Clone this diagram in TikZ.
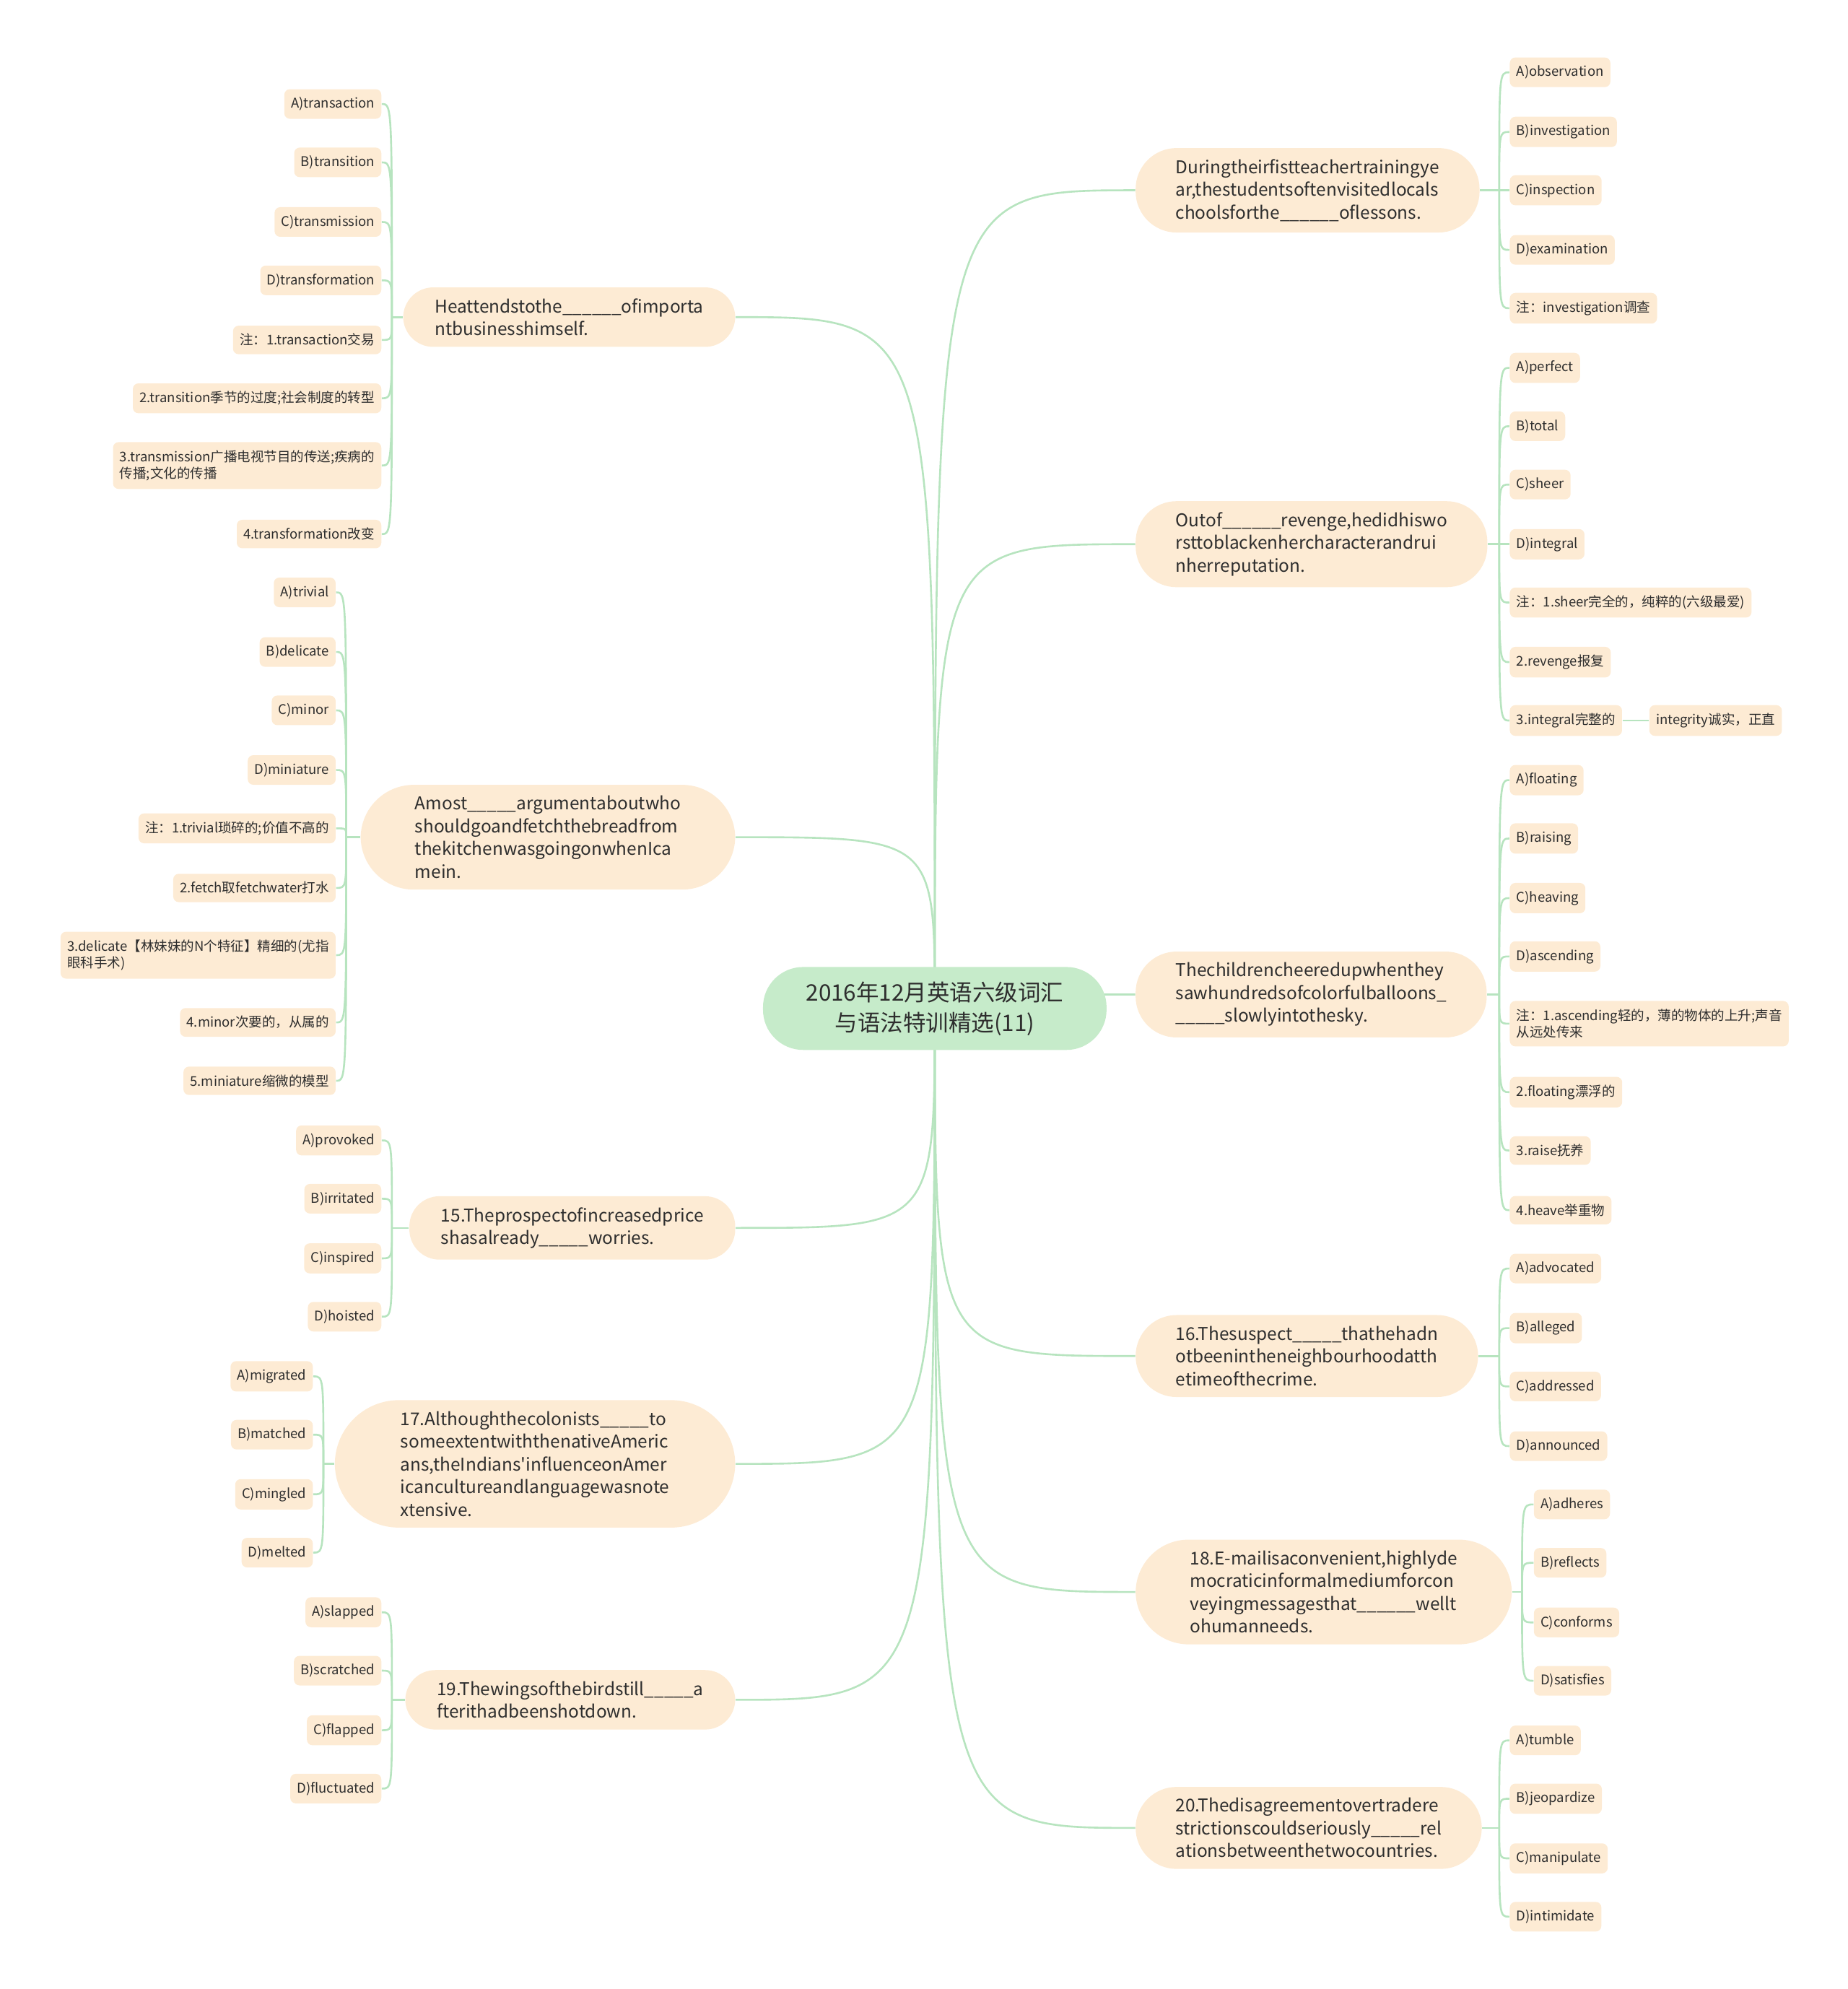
\documentclass[tikz,border=0pt]{standalone}
\usepackage{fontspec}
\setmainfont{Noto Sans CJK SC}
\usepackage{xcolor}
\usepackage{tikz}
\usetikzlibrary{backgrounds,calc}

\definecolor{rootgreen}{HTML}{C6EBCA}
\definecolor{peach}{HTML}{FDEBD4}
\definecolor{linkgreen}{HTML}{B7E4BF}
\definecolor{inkgray}{HTML}{2E2E2E}

\tikzset{
  rootnode/.style={rectangle, rounded corners=18pt, fill=rootgreen, text=inkgray, align=center,
    inner xsep=19.3pt, inner ysep=6.5pt, font=\fontsize{10.2}{13.6}\selectfont},
  question/.style={rectangle, fill=peach, text=inkgray, align=left,
    inner ysep=5pt, font=\fontsize{7.9}{10.2}\selectfont},
  lines2/.style={rounded corners=13.5pt, inner xsep=14.2pt},
  lines3/.style={rounded corners=18.4pt, inner xsep=18pt},
  lines4/.style={rounded corners=23.8pt, inner xsep=24.4pt},
  lines5/.style={rounded corners=28.8pt, inner xsep=29.5pt},
  option/.style={rectangle, rounded corners=2.5pt, fill=peach, text=inkgray, align=left,
    inner xsep=3pt, inner ysep=3.6pt, font=\fontsize{6}{7.6}\selectfont},
  link/.style={draw=linkgreen, line width=0.85pt},
}

\begin{document}
\begin{tikzpicture}[x=0.02cm, y=-0.02cm]
  \useasboundingbox (0,0) rectangle (1457,1568);
  % Root
  \node[rootnode] (root) at (737,795) {2016年12月英语六级词汇\\与语法特训精选(11)};

  % Questions on the right
  \node[question, lines3, anchor=west] (R1) at (895,150) {Duringtheirfistteachertrainingye\\ar,thestudentsoftenvisitedlocals\\choolsforthe\_\_\_\_\_\_oflessons.};
  \node[question, lines3, anchor=west] (R2) at (895,429) {Outof\_\_\_\_\_\_revenge,hedidhiswo\\rsttoblackenhercharacterandrui\\nherreputation.};
  \node[question, lines3, anchor=west] (R3) at (895,784) {Thechildrencheeredupwhenthey\\sawhundredsofcolorfulballoons\_\\\_\_\_\_\_slowlyintothesky.};
  \node[question, lines3, anchor=west] (R4) at (895,1069) {16.Thesuspect\_\_\_\_\_thathehadn\\otbeenintheneighbourhoodatth\\etimeofthecrime.};
  \node[question, lines4, anchor=west] (R5) at (895,1255) {18.E-mailisaconvenient,highlyde\\mocraticinformalmediumforcon\\veyingmessagesthat\_\_\_\_\_\_wellt\\ohumanneeds.};
  \node[question, lines3, anchor=west] (R6) at (895,1441) {20.Thedisagreementovertradere\\strictionscouldseriously\_\_\_\_\_rel\\ationsbetweenthetwocountries.};

  % Questions on the left
  \node[question, lines2, anchor=east] (L1) at (580,250) {Heattendstothe\_\_\_\_\_\_ofimporta\\ntbusinesshimself.};
  \node[question, lines4, anchor=east] (L2) at (580,660) {Amost\_\_\_\_\_argumentaboutwho\\shouldgoandfetchthebreadfrom\\thekitchenwasgoingonwhenIca\\mein.};
  \node[question, lines2, anchor=east] (L3) at (580,968) {15.Theprospectofincreasedprice\\shasalready\_\_\_\_\_worries.};
  \node[question, lines5, anchor=east] (L4) at (580,1154) {17.Althoughthecolonists\_\_\_\_\_to\\someextentwiththenativeAmeric\\ans,theIndians\textquotesingle influenceonAmer\\icancultureandlanguagewasnote\\xtensive.};
  \node[question, lines2, anchor=east] (L5) at (580,1340) {19.Thewingsofthebirdstill\_\_\_\_\_a\\fterithadbeenshotdown.};

  % Options of R1
  \node[option, anchor=west] (R1a) at (1190,57) {A)observation};
  \node[option, anchor=west] (R1b) at (1190,104) {B)investigation};
  \node[option, anchor=west] (R1c) at (1190,150) {C)inspection};
  \node[option, anchor=west] (R1d) at (1190,197) {D)examination};
  \node[option, anchor=west] (R1e) at (1190,243) {注：investigation调查};
  % Options of R2
  \node[option, anchor=west] (R2a) at (1190,290) {A)perfect};
  \node[option, anchor=west] (R2b) at (1190,336) {B)total};
  \node[option, anchor=west] (R2c) at (1190,382) {C)sheer};
  \node[option, anchor=west] (R2d) at (1190,429) {D)integral};
  \node[option, anchor=west] (R2e) at (1190,475) {注：1.sheer完全的，纯粹的(六级最爱)};
  \node[option, anchor=west] (R2f) at (1190,522) {2.revenge报复};
  \node[option, anchor=west] (R2g) at (1190,568) {3.integral完整的};
  \node[option, anchor=west] (R2h) at (1300,568) {integrity诚实，正直};
  % Options of R3
  \node[option, anchor=west] (R3a) at (1190,615) {A)floating};
  \node[option, anchor=west] (R3b) at (1190,661) {B)raising};
  \node[option, anchor=west] (R3c) at (1190,708) {C)heaving};
  \node[option, anchor=west] (R3d) at (1190,754) {D)ascending};
  \node[option, anchor=west] (R3e) at (1190,807) {注：1.ascending轻的，薄的物体的上升;声音\\从远处传来};
  \node[option, anchor=west] (R3f) at (1190,861) {2.floating漂浮的};
  \node[option, anchor=west] (R3g) at (1190,907) {3.raise抚养};
  \node[option, anchor=west] (R3h) at (1190,954) {4.heave举重物};
  % Options of R4
  \node[option, anchor=west] (R4a) at (1190,1000) {A)advocated};
  \node[option, anchor=west] (R4b) at (1190,1047) {B)alleged};
  \node[option, anchor=west] (R4c) at (1190,1093) {C)addressed};
  \node[option, anchor=west] (R4d) at (1190,1140) {D)announced};
  % Options of R5
  \node[option, anchor=west] (R5a) at (1209,1186) {A)adheres};
  \node[option, anchor=west] (R5b) at (1209,1232) {B)reflects};
  \node[option, anchor=west] (R5c) at (1209,1279) {C)conforms};
  \node[option, anchor=west] (R5d) at (1209,1325) {D)satisfies};
  % Options of R6
  \node[option, anchor=west] (R6a) at (1190,1372) {A)tumble};
  \node[option, anchor=west] (R6b) at (1190,1418) {B)jeopardize};
  \node[option, anchor=west] (R6c) at (1190,1465) {C)manipulate};
  \node[option, anchor=west] (R6d) at (1190,1511) {D)intimidate};

  % Options of L1
  \node[option, anchor=east] (L1a) at (301,82) {A)transaction};
  \node[option, anchor=east] (L1b) at (301,128) {B)transition};
  \node[option, anchor=east] (L1c) at (301,175) {C)transmission};
  \node[option, anchor=east] (L1d) at (301,221) {D)transformation};
  \node[option, anchor=east] (L1e) at (301,268) {注：1.transaction交易};
  \node[option, anchor=east] (L1f) at (301,314) {2.transition季节的过度;社会制度的转型};
  \node[option, anchor=east] (L1g) at (301,367) {3.transmission广播电视节目的传送;疾病的\\传播;文化的传播};
  \node[option, anchor=east] (L1h) at (301,421) {4.transformation改变};
  % Options of L2
  \node[option, anchor=east] (L2a) at (265,467) {A)trivial};
  \node[option, anchor=east] (L2b) at (265,514) {B)delicate};
  \node[option, anchor=east] (L2c) at (265,560) {C)minor};
  \node[option, anchor=east] (L2d) at (265,607) {D)miniature};
  \node[option, anchor=east] (L2e) at (265,653) {注：1.trivial琐碎的;价值不高的};
  \node[option, anchor=east] (L2f) at (265,700) {2.fetch取fetchwater打水};
  \node[option, anchor=east] (L2g) at (265,753) {3.delicate【林妹妹的N个特征】精细的(尤指\\眼科手术)};
  \node[option, anchor=east] (L2h) at (265,806) {4.minor次要的，从属的};
  \node[option, anchor=east] (L2i) at (265,852) {5.miniature缩微的模型};
  % Options of L3
  \node[option, anchor=east] (L3a) at (301,899) {A)provoked};
  \node[option, anchor=east] (L3b) at (301,945) {B)irritated};
  \node[option, anchor=east] (L3c) at (301,992) {C)inspired};
  \node[option, anchor=east] (L3d) at (301,1038) {D)hoisted};
  % Options of L4
  \node[option, anchor=east] (L4a) at (247,1085) {A)migrated};
  \node[option, anchor=east] (L4b) at (247,1131) {B)matched};
  \node[option, anchor=east] (L4c) at (247,1178) {C)mingled};
  \node[option, anchor=east] (L4d) at (247,1224) {D)melted};
  % Options of L5
  \node[option, anchor=east] (L5a) at (301,1271) {A)slapped};
  \node[option, anchor=east] (L5b) at (301,1317) {B)scratched};
  \node[option, anchor=east] (L5c) at (301,1364) {C)flapped};
  \node[option, anchor=east] (L5d) at (301,1410) {D)fluctuated};

  % Forks between questions and options
  \coordinate (R1bus) at (1182,150);
  \coordinate (R2bus) at (1182,429);
  \coordinate (R3bus) at (1182,784);
  \coordinate (R4bus) at (1182,1069);
  \coordinate (R5bus) at (1200,1255);
  \coordinate (R6bus) at (1182,1441);
  \coordinate (L1bus) at (309,250);
  \coordinate (L2bus) at (273,660);
  \coordinate (L3bus) at (309,968);
  \coordinate (L4bus) at (255,1154);
  \coordinate (L5bus) at (309,1340);

  \begin{scope}[on background layer]
    % Root to questions
    \draw[link] (root.center) .. controls (root.center |- R1.west) and (root.center |- R1.west) .. (R1.west);
    \draw[link] (root.center) .. controls (root.center |- R2.west) and (root.center |- R2.west) .. (R2.west);
    \draw[link] (root.center) .. controls (root.center |- R3.west) and (root.center |- R3.west) .. (R3.west);
    \draw[link] (root.center) .. controls (root.center |- R4.west) and (root.center |- R4.west) .. (R4.west);
    \draw[link] (root.center) .. controls (root.center |- R5.west) and (root.center |- R5.west) .. (R5.west);
    \draw[link] (root.center) .. controls (root.center |- R6.west) and (root.center |- R6.west) .. (R6.west);
    \draw[link] (root.center) .. controls (root.center |- L1.east) and (root.center |- L1.east) .. (L1.east);
    \draw[link] (root.center) .. controls (root.center |- L2.east) and (root.center |- L2.east) .. (L2.east);
    \draw[link] (root.center) .. controls (root.center |- L3.east) and (root.center |- L3.east) .. (L3.east);
    \draw[link] (root.center) .. controls (root.center |- L4.east) and (root.center |- L4.east) .. (L4.east);
    \draw[link] (root.center) .. controls (root.center |- L5.east) and (root.center |- L5.east) .. (L5.east);
    % Questions to forks
    \draw[link] (R1.east) -- (R1bus);
    \draw[link] (R2.east) -- (R2bus);
    \draw[link] (R3.east) -- (R3bus);
    \draw[link] (R4.east) -- (R4bus);
    \draw[link] (R5.east) -- (R5bus);
    \draw[link] (R6.east) -- (R6bus);
    \draw[link] (L1.west) -- (L1bus);
    \draw[link] (L2.west) -- (L2bus);
    \draw[link] (L3.west) -- (L3bus);
    \draw[link] (L4.west) -- (L4bus);
    \draw[link] (L5.west) -- (L5bus);
  \end{scope}

  % Forks to options, right side
  \foreach \q/\o in {R1/R1a,R1/R1b,R1/R1c,R1/R1d,R1/R1e,
      R2/R2a,R2/R2b,R2/R2c,R2/R2d,R2/R2e,R2/R2f,R2/R2g,
      R3/R3a,R3/R3b,R3/R3c,R3/R3d,R3/R3e,R3/R3f,R3/R3g,R3/R3h,
      R4/R4a,R4/R4b,R4/R4c,R4/R4d,R5/R5a,R5/R5b,R5/R5c,R5/R5d,
      R6/R6a,R6/R6b,R6/R6c,R6/R6d}
    \draw[link] (\q bus) .. controls (\q bus |- \o.west) and (\q bus |- \o.west) .. (\o.west);
  % Forks to options, left side
  \foreach \q/\o in {L1/L1a,L1/L1b,L1/L1c,L1/L1d,L1/L1e,L1/L1f,L1/L1g,L1/L1h,
      L2/L2a,L2/L2b,L2/L2c,L2/L2d,L2/L2e,L2/L2f,L2/L2g,L2/L2h,L2/L2i,
      L3/L3a,L3/L3b,L3/L3c,L3/L3d,L4/L4a,L4/L4b,L4/L4c,L4/L4d,
      L5/L5a,L5/L5b,L5/L5c,L5/L5d}
    \draw[link] (\q bus) .. controls (\q bus |- \o.east) and (\q bus |- \o.east) .. (\o.east);
  \draw[link] (R2g.east) -- (R2h.west);
\end{tikzpicture}
\end{document}
